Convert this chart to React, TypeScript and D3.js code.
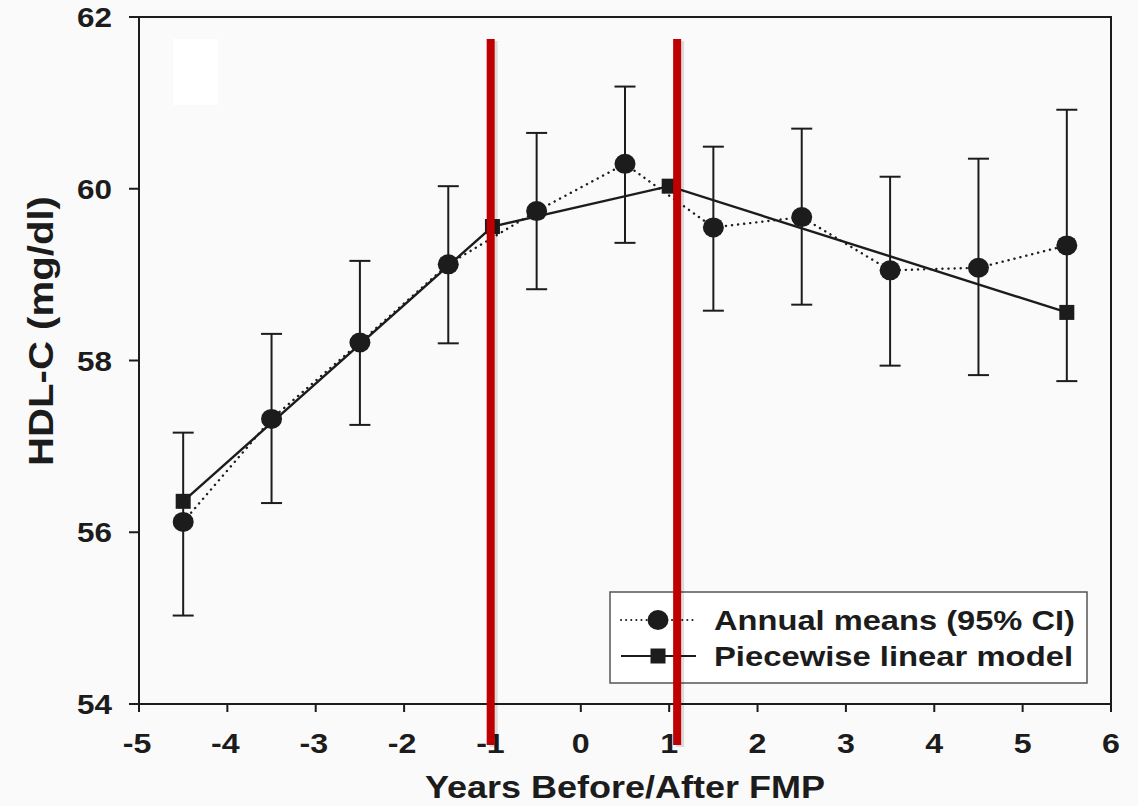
import * as d3 from "d3"

// years relative to final menstrual period (FMP)
const years = [-4.5, -3.5, -2.5, -1.5, -0.5, 0.5, 1.5, 2.5, 3.5, 4.5, 5.5]
const annualMeans = [56.12, 57.32, 58.21, 59.12, 59.74, 60.29, 59.55, 59.67, 59.05, 59.08, 59.34]
const ciLow = [55.03, 56.34, 57.25, 58.2, 58.83, 59.37, 58.58, 58.65, 57.94, 57.83, 57.76]
const ciHigh = [57.16, 58.31, 59.16, 60.03, 60.65, 61.19, 60.49, 60.7, 60.14, 60.35, 60.92]

const modelYears = [-4.5, -1, 1, 5.5]
const modelValues = [56.36, 59.56, 60.03, 58.56]

// hand-drawn red markers near -1 and +1
const redMarks = [-1.02, 1.09]

const xTicks = [-5, -4, -3, -2, -1, 0, 1, 2, 3, 4, 5, 6]
const yTicks = [54, 56, 58, 60, 62]

const W = 1138
const H = 806
const MARGIN = { left: 139, top: 17, right: 27, bottom: 102 }
const FONT = "'Liberation Sans', Arial, sans-serif"
const INK = "#1c1c1c"

export default function App() {
  const x = d3.scaleLinear().domain([-5, 6]).range([MARGIN.left, W - MARGIN.right])
  const y = d3.scaleLinear().domain([54, 62]).range([H - MARGIN.bottom, MARGIN.top])

  const dotted = d3.line<number>().x((_, i) => x(years[i])).y((d) => y(d))
  const solid = d3.line<number>().x((_, i) => x(modelYears[i])).y((d) => y(d))

  const [x0, x1] = x.range()
  const [yb, yt] = y.range()

  return (
    <div style={{ position: "absolute", left: 0, top: 0 }}>
      <svg width={W} height={H} style={{ display: "block", fontFamily: FONT }}>
        <rect width={W} height={H} fill="#fbfafa" />
        <rect x={173} y={39} width={45} height={66} fill="#ffffff" />

        {/* frame */}
        <rect x={x0} y={yt} width={x1 - x0} height={yb - yt} fill="none" stroke={INK} strokeWidth={2} />

        {/* y ticks */}
        {yTicks.map((t) => (
          <g key={t}>
            <line x1={x0 - 10} x2={x0} y1={y(t)} y2={y(t)} stroke={INK} strokeWidth={2} />
            <text x={112} y={y(t) + 10} textAnchor="end" fontSize={28} fontWeight={700} fill={INK}
              textLength={35} lengthAdjust="spacingAndGlyphs">
              {t}
            </text>
          </g>
        ))}

        {/* x ticks */}
        {xTicks.map((t) => (
          <g key={t}>
            <line x1={x(t)} x2={x(t)} y1={yb} y2={yb + 8} stroke={INK} strokeWidth={2} />
            <text transform={`translate(${x(t) + (t < 0 ? -2 : 0)},753) scale(1.15,1)`} textAnchor="middle"
              fontSize={28} fontWeight={700} fill={INK}>
              {t}
            </text>
          </g>
        ))}

        {/* axis titles */}
        <text x={625} y={798} textAnchor="middle" fontSize={32} fontWeight={700} fill={INK}
          textLength={400} lengthAdjust="spacingAndGlyphs">
          Years Before/After FMP
        </text>
        <text transform="translate(53,331) rotate(-90)" textAnchor="middle" fontSize={35} fontWeight={700} fill={INK}
          textLength={270} lengthAdjust="spacingAndGlyphs">
          HDL-C (mg/dl)
        </text>

        {/* error bars */}
        {years.map((yr, i) => (
          <g key={yr} stroke={INK} strokeWidth={2}>
            <line x1={x(yr)} x2={x(yr)} y1={y(ciLow[i])} y2={y(ciHigh[i])} />
            <line x1={x(yr) - 10.5} x2={x(yr) + 10.5} y1={y(ciLow[i])} y2={y(ciLow[i])} />
            <line x1={x(yr) - 10.5} x2={x(yr) + 10.5} y1={y(ciHigh[i])} y2={y(ciHigh[i])} />
          </g>
        ))}

        <path d={dotted(annualMeans) ?? ""} fill="none" stroke={INK} strokeWidth={2.4}
          strokeDasharray="0.1 6" strokeLinecap="round" />
        <path d={solid(modelValues) ?? ""} fill="none" stroke={INK} strokeWidth={2.4} />

        {years.map((yr, i) => (
          <ellipse key={yr} cx={x(yr)} cy={y(annualMeans[i])} rx={10.5} ry={10} fill={INK} />
        ))}
        {modelYears.map((yr, i) => (
          <rect key={yr} x={x(yr) - 7.5} y={y(modelValues[i]) - 7.5} width={15} height={15} fill={INK} />
        ))}

        {/* legend */}
        <rect x={610} y={592} width={477} height={91} fill="#ffffff" stroke="#555" strokeWidth={1.5} />
        <line x1={621} x2={696} y1={620} y2={620} stroke={INK} strokeWidth={2} strokeDasharray="0.1 5" strokeLinecap="round" />
        <ellipse cx={658} cy={620} rx={10.5} ry={10} fill={INK} />
        <text x={714} y={630} fontSize={28} fontWeight={700} fill={INK} textLength={361} lengthAdjust="spacingAndGlyphs">
          Annual means (95% CI)
        </text>
        <line x1={621} x2={696} y1={656} y2={656} stroke={INK} strokeWidth={2.2} />
        <rect x={650.5} y={648.5} width={15} height={15} fill={INK} />
        <text x={714} y={666} fontSize={28} fontWeight={700} fill={INK} textLength={359} lengthAdjust="spacingAndGlyphs">
          Piecewise linear model
        </text>

        {/* red FMP markers */}
        {redMarks.map((m) => (
          <g key={m}>
            <rect x={x(m) - 1} y={41} width={8} height={706} fill="#000" opacity={0.12} />
            <rect x={x(m) - 4} y={39} width={8} height={706} fill="#c00000" />
          </g>
        ))}
      </svg>
    </div>
  )
}
